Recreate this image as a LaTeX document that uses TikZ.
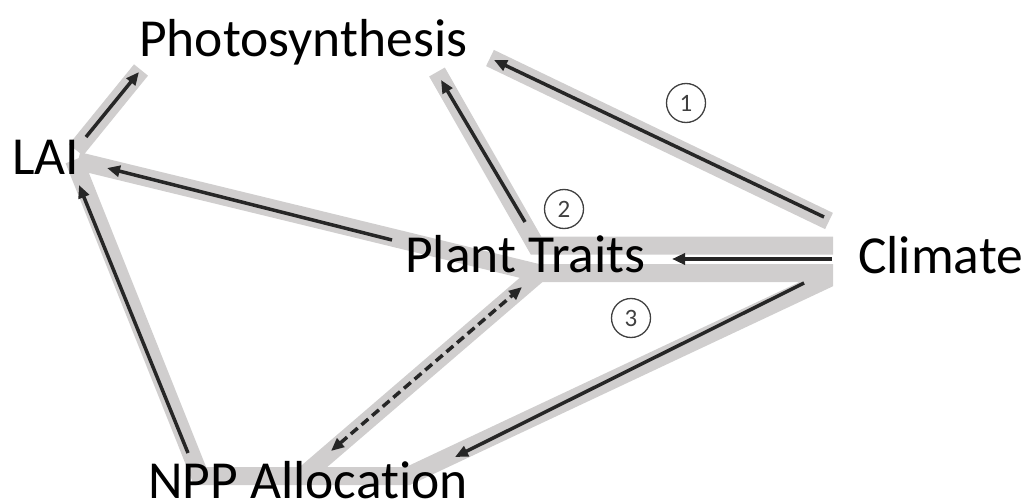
\documentclass[tikz,border=0pt]{standalone}
\usepackage{fontspec}
\setmainfont{Carlito}[Ligatures=NoCommon]
\usetikzlibrary{arrows.meta}
\definecolor{band}{HTML}{D0CECE}
\definecolor{arr}{HTML}{262626}
\definecolor{ring}{HTML}{404040}
\begin{document}
\begin{tikzpicture}[x=1pt,y=-1pt,
  bandline/.style={draw=band, line width=18pt, line cap=butt, line join=miter},
  arrowline/.style={draw=arr, line width=3.5pt, -{Triangle[length=13pt,width=11pt]}},
  dasharrow/.style={draw=arr, line width=3.5pt, dash pattern=on 9pt off 5pt, {Triangle[length=13pt,width=11pt]}-{Triangle[length=13pt,width=11pt]}},
  lbl/.style={anchor=base west, inner sep=0pt, text depth=0pt, font=\fontsize{53.5}{54}\selectfont},
  numc/.style={circle, draw=ring, line width=1.3pt, minimum size=39pt, inner sep=0pt, text=ring, font=\fontsize{25}{25}\selectfont}]
\useasboundingbox (0,0) rectangle (1026,503);
% grey pathways
\begin{scope}
\clip (0,0) rectangle (833,503);
\draw[bandline] (76,150) -- (141,70);
\draw[bandline] (490,58) -- (829,221);
\draw[bandline] (437,72) -- (536,245.5) -- (840,245.5);
\draw[bandline] (78,161) -- (538,273) -- (840,273) -- (408,476) -- (200,476) -- (74,160);
\draw[bandline] (303,476) -- (538,274);
\end{scope}
% labels
\node[lbl] (photo) at (139,57) {Photosynthesis};
\node[lbl] (lai) at (12,174) {LAI};
\node[lbl] (traits) at (405,272) {Plant Traits};
\node[lbl] (climate) at (858,273) {Climate};
\node[lbl] (npp) at (148,498) {NPP Allocation};
\node[numc] (n1) at (686,103) {1};
\node[numc] (n2) at (564,209) {2};
\node[numc] (n3) at (631,318) {3};
% arrow end points
\coordinate (a0s) at (86,137);  \coordinate (a0e) at (139,72);
\coordinate (a1s) at (824,217); \coordinate (a1e) at (494,60);
\coordinate (a2s) at (525,222); \coordinate (a2e) at (441,80);
\coordinate (a3s) at (392,240); \coordinate (a3e) at (107,168);
\coordinate (a4s) at (188,453); \coordinate (a4e) at (79,185);
\coordinate (a5s) at (331,451); \coordinate (a5e) at (522,287);
\coordinate (a6s) at (832,259); \coordinate (a6e) at (672,259);
\coordinate (a7s) at (804,283); \coordinate (a7e) at (455,457);
% arrows
\draw[arrowline] (a0s) -- (a0e);
\draw[arrowline] (a1s) -- (a1e);
\draw[arrowline] (a2s) -- (a2e);
\draw[arrowline] (a3s) -- (a3e);
\draw[arrowline] (a4s) -- (a4e);
\draw[dasharrow] (a5s) -- (a5e);
\draw[arrowline] (a6s) -- (a6e);
\draw[arrowline] (a7s) -- (a7e);
\end{tikzpicture}
\end{document}
